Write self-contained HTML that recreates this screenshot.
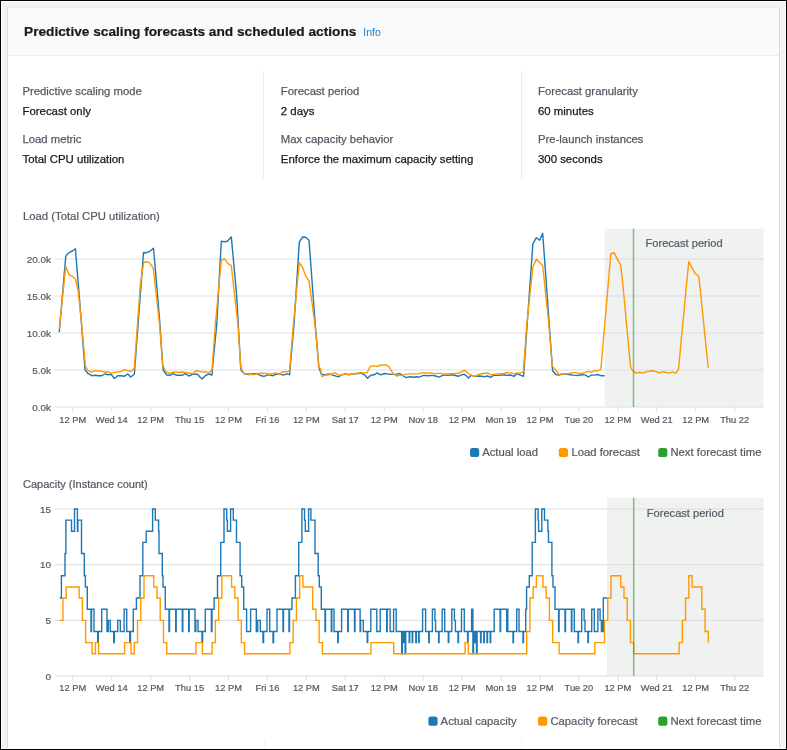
<!DOCTYPE html>
<html><head><meta charset="utf-8">
<style>
*{margin:0;padding:0;box-sizing:border-box}
html,body{width:787px;height:750px;overflow:hidden;background:#000}
body{position:relative;font-family:"Liberation Sans",Arial,sans-serif;color:#16191f}
#frame{position:absolute;left:1px;top:1px;width:785px;height:748px;background:#fff}
#bg{position:absolute;left:2px;top:2px;width:783px;height:746px;background:#f2f3f3}
#card{position:absolute;left:8px;top:7px;width:771px;height:741px;background:#fff;border-top:1px solid #eaeded;
 box-shadow:1px 0 0 0 #dadddf,-1px 0 0 0 #dadddf}
#hdr{position:absolute;left:0;top:0;width:771px;height:48px;background:#fafafa;border-bottom:1px solid #eaeded}
#title{position:absolute;left:16px;top:15.5px;font-size:13.7px;font-weight:bold;white-space:nowrap;color:#16191f;line-height:16px;-webkit-text-stroke:0.2px #16191f}
#info{position:absolute;left:355.3px;top:18.4px;font-size:10.5px;line-height:12px;color:#1b7fc4;font-weight:normal;white-space:nowrap}
.t{position:absolute;white-space:nowrap;font-size:11.3px;line-height:13px;-webkit-text-stroke:0.25px currentColor}
.lab{color:#545b64}
.val{color:#16191f;font-size:11.4px}
.div{position:absolute;width:1px;background:#eaeded}
svg{position:absolute;left:0;top:0}
</style></head><body>
<div id="frame"></div>
<div id="bg"></div>
<div id="card">
 <div id="hdr"><div id="title">Predictive scaling forecasts and scheduled actions</div><div id="info">Info</div></div>
</div>
<div class="t lab" style="left:22.5px;top:85px">Predictive scaling mode</div>
<div class="t val" style="left:22.5px;top:105px">Forecast only</div>
<div class="t lab" style="left:22.5px;top:133px">Load metric</div>
<div class="t val" style="left:22.5px;top:153px">Total CPU utilization</div>
<div class="div" style="left:263px;top:71px;height:108px"></div>
<div class="t lab" style="left:280.8px;top:85px">Forecast period</div>
<div class="t val" style="left:280.8px;top:105px">2 days</div>
<div class="t lab" style="left:280.8px;top:133px">Max capacity behavior</div>
<div class="t val" style="left:280.8px;top:153px">Enforce the maximum capacity setting</div>
<div class="div" style="left:521px;top:71px;height:108px"></div>
<div class="t lab" style="left:538px;top:85px">Forecast granularity</div>
<div class="t val" style="left:538px;top:105px">60 minutes</div>
<div class="t lab" style="left:538px;top:133px">Pre-launch instances</div>
<div class="t val" style="left:538px;top:153px">300 seconds</div>
<div class="div" style="left:264px;top:740px;height:8px;background:#f2f3f3"></div>
<div class="div" style="left:521px;top:740px;height:8px;background:#f2f3f3"></div>
<svg width="787" height="750" viewBox="0 0 787 750" font-family="Liberation Sans, Arial, sans-serif">
<text x="23" y="219.7" font-size="11.3" fill="#545b64" stroke="#545b64" stroke-width="0.22">Load (Total CPU utilization)</text>
<rect x="604.7" y="228.7" width="158.8" height="178.4" fill="#f0f1f1"/>
<line x1="54.5" x2="763.5" y1="259" y2="259" stroke="#dcdddf" stroke-width="1"/>
<line x1="54.5" x2="763.5" y1="296" y2="296" stroke="#dcdddf" stroke-width="1"/>
<line x1="54.5" x2="763.5" y1="333" y2="333" stroke="#dcdddf" stroke-width="1"/>
<line x1="54.5" x2="763.5" y1="370" y2="370" stroke="#dcdddf" stroke-width="1"/>
<line x1="54.5" x2="763.5" y1="407" y2="407" stroke="#dcdddf" stroke-width="1"/>
<text x="51" y="262.5" font-size="9.9" fill="#545b64" stroke="#545b64" stroke-width="0.22" text-anchor="end">20.0k</text>
<text x="51" y="299.5" font-size="9.9" fill="#545b64" stroke="#545b64" stroke-width="0.22" text-anchor="end">15.0k</text>
<text x="51" y="336.5" font-size="9.9" fill="#545b64" stroke="#545b64" stroke-width="0.22" text-anchor="end">10.0k</text>
<text x="51" y="373.5" font-size="9.9" fill="#545b64" stroke="#545b64" stroke-width="0.22" text-anchor="end">5.0k</text>
<text x="51" y="410.5" font-size="9.9" fill="#545b64" stroke="#545b64" stroke-width="0.22" text-anchor="end">0.0k</text>
<line x1="72.8" x2="72.8" y1="407.1" y2="411.6" stroke="#dcdddf" stroke-width="1"/>
<text x="72.8" y="422.5" font-size="9.3" fill="#545b64" stroke="#545b64" stroke-width="0.22" text-anchor="middle">12 PM</text>
<line x1="111.73" x2="111.73" y1="407.1" y2="411.6" stroke="#dcdddf" stroke-width="1"/>
<text x="111.73" y="422.5" font-size="9.3" fill="#545b64" stroke="#545b64" stroke-width="0.22" text-anchor="middle">Wed 14</text>
<line x1="150.66" x2="150.66" y1="407.1" y2="411.6" stroke="#dcdddf" stroke-width="1"/>
<text x="150.66" y="422.5" font-size="9.3" fill="#545b64" stroke="#545b64" stroke-width="0.22" text-anchor="middle">12 PM</text>
<line x1="189.59" x2="189.59" y1="407.1" y2="411.6" stroke="#dcdddf" stroke-width="1"/>
<text x="189.59" y="422.5" font-size="9.3" fill="#545b64" stroke="#545b64" stroke-width="0.22" text-anchor="middle">Thu 15</text>
<line x1="228.52" x2="228.52" y1="407.1" y2="411.6" stroke="#dcdddf" stroke-width="1"/>
<text x="228.52" y="422.5" font-size="9.3" fill="#545b64" stroke="#545b64" stroke-width="0.22" text-anchor="middle">12 PM</text>
<line x1="267.45" x2="267.45" y1="407.1" y2="411.6" stroke="#dcdddf" stroke-width="1"/>
<text x="267.45" y="422.5" font-size="9.3" fill="#545b64" stroke="#545b64" stroke-width="0.22" text-anchor="middle">Fri 16</text>
<line x1="306.38" x2="306.38" y1="407.1" y2="411.6" stroke="#dcdddf" stroke-width="1"/>
<text x="306.38" y="422.5" font-size="9.3" fill="#545b64" stroke="#545b64" stroke-width="0.22" text-anchor="middle">12 PM</text>
<line x1="345.31" x2="345.31" y1="407.1" y2="411.6" stroke="#dcdddf" stroke-width="1"/>
<text x="345.31" y="422.5" font-size="9.3" fill="#545b64" stroke="#545b64" stroke-width="0.22" text-anchor="middle">Sat 17</text>
<line x1="384.24" x2="384.24" y1="407.1" y2="411.6" stroke="#dcdddf" stroke-width="1"/>
<text x="384.24" y="422.5" font-size="9.3" fill="#545b64" stroke="#545b64" stroke-width="0.22" text-anchor="middle">12 PM</text>
<line x1="423.17" x2="423.17" y1="407.1" y2="411.6" stroke="#dcdddf" stroke-width="1"/>
<text x="423.17" y="422.5" font-size="9.3" fill="#545b64" stroke="#545b64" stroke-width="0.22" text-anchor="middle">Nov 18</text>
<line x1="462.1" x2="462.1" y1="407.1" y2="411.6" stroke="#dcdddf" stroke-width="1"/>
<text x="462.1" y="422.5" font-size="9.3" fill="#545b64" stroke="#545b64" stroke-width="0.22" text-anchor="middle">12 PM</text>
<line x1="501.03" x2="501.03" y1="407.1" y2="411.6" stroke="#dcdddf" stroke-width="1"/>
<text x="501.03" y="422.5" font-size="9.3" fill="#545b64" stroke="#545b64" stroke-width="0.22" text-anchor="middle">Mon 19</text>
<line x1="539.96" x2="539.96" y1="407.1" y2="411.6" stroke="#dcdddf" stroke-width="1"/>
<text x="539.96" y="422.5" font-size="9.3" fill="#545b64" stroke="#545b64" stroke-width="0.22" text-anchor="middle">12 PM</text>
<line x1="578.89" x2="578.89" y1="407.1" y2="411.6" stroke="#dcdddf" stroke-width="1"/>
<text x="578.89" y="422.5" font-size="9.3" fill="#545b64" stroke="#545b64" stroke-width="0.22" text-anchor="middle">Tue 20</text>
<line x1="617.82" x2="617.82" y1="407.1" y2="411.6" stroke="#dcdddf" stroke-width="1"/>
<text x="617.82" y="422.5" font-size="9.3" fill="#545b64" stroke="#545b64" stroke-width="0.22" text-anchor="middle">12 PM</text>
<line x1="656.75" x2="656.75" y1="407.1" y2="411.6" stroke="#dcdddf" stroke-width="1"/>
<text x="656.75" y="422.5" font-size="9.3" fill="#545b64" stroke="#545b64" stroke-width="0.22" text-anchor="middle">Wed 21</text>
<line x1="695.68" x2="695.68" y1="407.1" y2="411.6" stroke="#dcdddf" stroke-width="1"/>
<text x="695.68" y="422.5" font-size="9.3" fill="#545b64" stroke="#545b64" stroke-width="0.22" text-anchor="middle">12 PM</text>
<line x1="734.61" x2="734.61" y1="407.1" y2="411.6" stroke="#dcdddf" stroke-width="1"/>
<text x="734.61" y="422.5" font-size="9.3" fill="#545b64" stroke="#545b64" stroke-width="0.22" text-anchor="middle">Thu 22</text>
<text x="645.5" y="247.3" font-size="11.1" fill="#545b64" stroke="#545b64" stroke-width="0.22">Forecast period</text>
<polyline points="59.3,332.3 65.7,256.7 67.7,253.7 69.7,252.3 72.3,251 75.4,248.7 78.6,288 81.9,329 85,369.7 85.4,370.6 88.3,373.7 91.7,375.7 95,375.3 98.3,375.7 101.7,375.7 105,374 108.3,374.7 111,374.3 114.5,378.5 117.7,375.7 121,375.7 124,376.3 127.7,374 130.7,377 134.3,374.3 134.7,369 143.5,252.5 146.3,252.7 149.3,251.7 153.5,248.2 156.7,285 160,325 162.7,365.7 163.3,370.3 166.7,375 170,375.3 173,373.7 176.7,375.3 182,375.3 185.3,373.7 188.7,376 192.7,374.3 197.3,374.3 202,379 205.3,375.7 208.7,374 212,375 212.3,370.3 216.7,325 221.3,241.3 224.7,241.7 227.3,241.3 231.3,237 236.7,295.7 238.3,325 240.7,367.5 241.4,370.7 244.5,373.8 249,374.5 253.4,373.8 257.2,373.8 260.4,375.5 264,376.4 268.7,374.7 273.1,375.7 276.9,374.2 280.1,373.8 283.3,375.1 287.1,373.8 289.6,374.7 289.9,370 294,325 299.3,242 302.7,237 305.6,237.3 309,240.3 315.3,325 318.9,367.5 321.3,374.1 325.1,374.8 328.9,373.9 332.7,375.2 338.4,376.9 341.6,374.8 344.8,373.9 348.6,374.8 352.4,373.9 356.8,373.9 361.3,373.1 364.5,374.8 367.6,378.2 370.8,375.2 374,374.8 377.2,372.9 380.7,374.8 384.2,373.5 387.3,373.9 390.5,374.4 396.2,374.1 400,373.5 403.2,376 406.4,377.7 409.6,376.7 413.4,377.3 416.6,376.7 419.4,377.1 423.3,375.4 427.7,375.7 432.8,375.4 435.3,376 439.1,377.1 443.6,374.8 447.4,375.4 452.5,374.8 458.2,376.3 462.6,374.4 465.2,374.8 468.4,378 470.9,375.4 474.7,376.4 479.2,376 484.9,376.7 487.4,376 490.6,377.3 493.8,375.2 498.9,375.4 503.9,374.8 506.5,375.4 510.5,375 513.9,376.4 517.1,373.8 520.2,375.1 523.4,376.4 523.8,372.6 527.1,325 532.9,243.7 536.4,237.7 539.6,240.3 542.7,233.3 549.3,325 552.3,367.1 552.6,370.7 555.8,374.5 559,375.1 563.5,373.8 568.5,374.5 573.6,375.1 578.7,375.5 582.5,374.5 585.7,375.1 588.2,377 591.4,375.1 595.2,375.1 597.8,374.5 600.9,375.7 604.7,375.7" fill="none" stroke="#1f77b4" stroke-width="1.4" stroke-linejoin="round"/>
<polyline points="59.3,329 65.7,266.3 69,274.6 72.3,276.3 75.4,279 78.3,291.7 81.7,325 85.4,366 87.7,370.3 91.3,372 95,370.7 98.3,371 101.7,371.4 105,372.3 107.7,371.7 111,373.3 114.3,372.3 117.7,372 121,371.4 124.3,369.7 127.7,370.7 131,371.3 134.3,368.3 140.3,285 143.7,262.3 146.7,261.7 149.7,262.9 153.3,268.3 159.6,325 162.7,365.4 166,371.7 169.3,373.4 172.7,372.3 178,372.3 182.7,372 186.7,372.7 192.7,373.7 196,370.7 200,371.4 202.7,372 205.3,371.7 208.7,373 212,369.7 215.3,325 221.3,260 224.7,259 228,263.7 231.3,265.7 238,325 240.7,366.8 243.9,373.8 247.7,373.8 253.4,374.7 259.8,373.2 266.1,373.5 270,374.2 275.7,373 279.5,374.5 282.6,371.7 287.1,371.7 289.6,370.4 293.3,325 299.3,262.6 302.7,267.7 305.6,275.7 309,281 315,325 318.9,367 320.6,369 321.9,376.7 325.1,375.2 328.9,374.8 332.7,373.3 335.2,372.9 339.1,375.4 342.2,374.8 346.7,374.1 350.5,374.4 355.6,373.5 360.7,372.6 367,372.9 370.2,366.5 373.4,365.9 377.2,366.5 380.4,365 386.7,365 389.2,367.2 393.1,373.5 396.2,376 399.4,375.2 402.6,375.2 406.4,374.1 411.5,373.9 415.3,373.9 418.8,373.9 422.6,372.6 426.4,373.3 430.2,372.9 435.3,373.8 439.8,373.1 444.2,374.1 448.7,373.8 453.1,373.8 458.2,373.3 464.6,370.1 468.4,373.5 474.1,376.7 478.5,374.5 483,373.5 487.4,372.9 491.2,374.8 494.4,374.4 498.9,373.8 503.3,373.8 507.1,372.5 510.9,372.9 513.9,373.8 517.1,372.9 520.2,373.2 523.4,371.9 526.7,325 532.9,267 536.4,259 542.7,265.7 548.9,325 552.3,366.2 555.2,369.4 559,374.5 562.8,373.8 567.9,373.8 571.7,372.6 575.5,372.6 580,373.8 584.4,372.6 588.2,371.3 591.4,372.2 594.6,370.7 597.8,370.9 600.9,369.4 610.8,254 614,252.7 620.7,265.3 623.4,290 630.5,367 632.8,370.8 635.8,373.1 639.6,372.3 642.7,373.1 646.5,371.6 652.6,370.8 656.4,371.6 659.5,373.1 662.5,371.6 665.5,372.3 669.4,373.1 672.4,371.9 675.8,373.1 678.5,369.3 686,290 688.8,261.7 695,273.3 698.7,276.3 700.3,290 708.2,367.7" fill="none" stroke="#ff9900" stroke-width="1.4" stroke-linejoin="round"/>
<line x1="633.5" x2="633.5" y1="228.7" y2="407.1" stroke="#2ca02c" stroke-opacity="0.6" stroke-width="1.5"/>
<rect x="470" y="447.9" width="9.2" height="9.2" rx="2.6" fill="#1f77b4"/>
<text x="482.2" y="455.9" font-size="11.3" fill="#545b64" stroke="#545b64" stroke-width="0.22">Actual load</text>
<rect x="558.8" y="447.9" width="9.2" height="9.2" rx="2.6" fill="#ff9900"/>
<text x="571.4" y="455.9" font-size="11.3" fill="#545b64" stroke="#545b64" stroke-width="0.22">Load forecast</text>
<rect x="658.2" y="447.9" width="9.2" height="9.2" rx="2.6" fill="#2ca02c"/>
<text x="670.4" y="455.9" font-size="11.3" fill="#545b64" stroke="#545b64" stroke-width="0.22">Next forecast time</text>
<text x="23" y="487.9" font-size="11.0" fill="#545b64" stroke="#545b64" stroke-width="0.22">Capacity (Instance count)</text>
<rect x="607" y="497.7" width="156.5" height="178.2" fill="#f0f1f1"/>
<line x1="54.5" x2="763.5" y1="509" y2="509" stroke="#dcdddf" stroke-width="1"/>
<line x1="54.5" x2="763.5" y1="564.67" y2="564.67" stroke="#dcdddf" stroke-width="1"/>
<line x1="54.5" x2="763.5" y1="620.34" y2="620.34" stroke="#dcdddf" stroke-width="1"/>
<line x1="54.5" x2="763.5" y1="676" y2="676" stroke="#dcdddf" stroke-width="1"/>
<text x="51" y="512.5" font-size="9.9" fill="#545b64" stroke="#545b64" stroke-width="0.22" text-anchor="end">15</text>
<text x="51" y="568.17" font-size="9.9" fill="#545b64" stroke="#545b64" stroke-width="0.22" text-anchor="end">10</text>
<text x="51" y="623.84" font-size="9.9" fill="#545b64" stroke="#545b64" stroke-width="0.22" text-anchor="end">5</text>
<text x="51" y="679.5" font-size="9.9" fill="#545b64" stroke="#545b64" stroke-width="0.22" text-anchor="end">0</text>
<line x1="72.8" x2="72.8" y1="675.9" y2="680.4" stroke="#dcdddf" stroke-width="1"/>
<text x="72.8" y="691.3" font-size="9.3" fill="#545b64" stroke="#545b64" stroke-width="0.22" text-anchor="middle">12 PM</text>
<line x1="111.73" x2="111.73" y1="675.9" y2="680.4" stroke="#dcdddf" stroke-width="1"/>
<text x="111.73" y="691.3" font-size="9.3" fill="#545b64" stroke="#545b64" stroke-width="0.22" text-anchor="middle">Wed 14</text>
<line x1="150.66" x2="150.66" y1="675.9" y2="680.4" stroke="#dcdddf" stroke-width="1"/>
<text x="150.66" y="691.3" font-size="9.3" fill="#545b64" stroke="#545b64" stroke-width="0.22" text-anchor="middle">12 PM</text>
<line x1="189.59" x2="189.59" y1="675.9" y2="680.4" stroke="#dcdddf" stroke-width="1"/>
<text x="189.59" y="691.3" font-size="9.3" fill="#545b64" stroke="#545b64" stroke-width="0.22" text-anchor="middle">Thu 15</text>
<line x1="228.52" x2="228.52" y1="675.9" y2="680.4" stroke="#dcdddf" stroke-width="1"/>
<text x="228.52" y="691.3" font-size="9.3" fill="#545b64" stroke="#545b64" stroke-width="0.22" text-anchor="middle">12 PM</text>
<line x1="267.45" x2="267.45" y1="675.9" y2="680.4" stroke="#dcdddf" stroke-width="1"/>
<text x="267.45" y="691.3" font-size="9.3" fill="#545b64" stroke="#545b64" stroke-width="0.22" text-anchor="middle">Fri 16</text>
<line x1="306.38" x2="306.38" y1="675.9" y2="680.4" stroke="#dcdddf" stroke-width="1"/>
<text x="306.38" y="691.3" font-size="9.3" fill="#545b64" stroke="#545b64" stroke-width="0.22" text-anchor="middle">12 PM</text>
<line x1="345.31" x2="345.31" y1="675.9" y2="680.4" stroke="#dcdddf" stroke-width="1"/>
<text x="345.31" y="691.3" font-size="9.3" fill="#545b64" stroke="#545b64" stroke-width="0.22" text-anchor="middle">Sat 17</text>
<line x1="384.24" x2="384.24" y1="675.9" y2="680.4" stroke="#dcdddf" stroke-width="1"/>
<text x="384.24" y="691.3" font-size="9.3" fill="#545b64" stroke="#545b64" stroke-width="0.22" text-anchor="middle">12 PM</text>
<line x1="423.17" x2="423.17" y1="675.9" y2="680.4" stroke="#dcdddf" stroke-width="1"/>
<text x="423.17" y="691.3" font-size="9.3" fill="#545b64" stroke="#545b64" stroke-width="0.22" text-anchor="middle">Nov 18</text>
<line x1="462.1" x2="462.1" y1="675.9" y2="680.4" stroke="#dcdddf" stroke-width="1"/>
<text x="462.1" y="691.3" font-size="9.3" fill="#545b64" stroke="#545b64" stroke-width="0.22" text-anchor="middle">12 PM</text>
<line x1="501.03" x2="501.03" y1="675.9" y2="680.4" stroke="#dcdddf" stroke-width="1"/>
<text x="501.03" y="691.3" font-size="9.3" fill="#545b64" stroke="#545b64" stroke-width="0.22" text-anchor="middle">Mon 19</text>
<line x1="539.96" x2="539.96" y1="675.9" y2="680.4" stroke="#dcdddf" stroke-width="1"/>
<text x="539.96" y="691.3" font-size="9.3" fill="#545b64" stroke="#545b64" stroke-width="0.22" text-anchor="middle">12 PM</text>
<line x1="578.89" x2="578.89" y1="675.9" y2="680.4" stroke="#dcdddf" stroke-width="1"/>
<text x="578.89" y="691.3" font-size="9.3" fill="#545b64" stroke="#545b64" stroke-width="0.22" text-anchor="middle">Tue 20</text>
<line x1="617.82" x2="617.82" y1="675.9" y2="680.4" stroke="#dcdddf" stroke-width="1"/>
<text x="617.82" y="691.3" font-size="9.3" fill="#545b64" stroke="#545b64" stroke-width="0.22" text-anchor="middle">12 PM</text>
<line x1="656.75" x2="656.75" y1="675.9" y2="680.4" stroke="#dcdddf" stroke-width="1"/>
<text x="656.75" y="691.3" font-size="9.3" fill="#545b64" stroke="#545b64" stroke-width="0.22" text-anchor="middle">Wed 21</text>
<line x1="695.68" x2="695.68" y1="675.9" y2="680.4" stroke="#dcdddf" stroke-width="1"/>
<text x="695.68" y="691.3" font-size="9.3" fill="#545b64" stroke="#545b64" stroke-width="0.22" text-anchor="middle">12 PM</text>
<line x1="734.61" x2="734.61" y1="675.9" y2="680.4" stroke="#dcdddf" stroke-width="1"/>
<text x="734.61" y="691.3" font-size="9.3" fill="#545b64" stroke="#545b64" stroke-width="0.22" text-anchor="middle">Thu 22</text>
<text x="646.8" y="516.6" font-size="11.1" fill="#545b64" stroke="#545b64" stroke-width="0.22">Forecast period</text>
<path d="M59.7,598.07H61.4V575.8H65V553.54H65.9V520.14H71.5V531.27H74.5V509H77.4V531.27H77.9V520.14H81.5V553.54H84.3V575.8H85.4V586.94H87.3V609.2H91V631.47H91.5V609.2H94V631.47H97.7V642.6H98.3V631.47H101.7V609.2H107V631.47H108.3V620.34H110.3V631.47H113.7V642.6H114.3V631.47H117.7V620.34H120.3V631.47H124.1V609.2H126.7V631.47H129.7V642.6H130.5V631.47H133.3V609.2H136.4V598.07H140V575.8H142.8V542.4H146.2V531.27H152.6V509H155.3V520.14H158.6V531.27H159V553.54H162.3V575.8H163V586.94H165.3V609.2H169V631.47H169.5V609.2H175.7V631.47H176.2V609.2H182.3V631.47H182.8V609.2H188.7V631.47H189.2V609.2H195V631.47H195.8V620.34H198V631.47H202V642.6H202.6V631.47H205.3V609.2H211.4V631.47H212V609.2H214.1V598.07H217.5V575.8H220.7V542.4H224V509H226.7V520.14H227.4V531.27H230.6V509H233.3V520.14H236.5V542.4H240.1V575.8H241.7V586.94H243.7V609.2H246.6V631.47H250.6V609.2H256.3V631.47H257.7V620.34H260.3V631.47H263V642.6H263.6V631.47H267V609.2H269.7V631.47H273V642.6H273.6V631.47H277V609.2H283V631.47H283.5V609.2H289V631.47H289.5V609.2H292V598.07H295.4V575.8H298.7V542.4H301.9V509H304.5V520.14H305.3V531.27H308.6V509H310.9V520.14H315V553.54H318.2V575.8H319.3V586.94H321.3V609.2H325V631.47H325.5V609.2H331.3V631.47H331.8V609.2H334V631.47H337.7V642.6H338.2V631.47H341.6V609.2H347.7V631.47H348.2V609.2H354.5V631.47H355V609.2H360.1V631.47H360.6V620.34H363.3V631.47H367.2V642.6H367.7V631.47H370.8V609.2H376.8V631.47H380.2V609.2H386.7V631.47H387.2V609.2H390.1V631.47H393.6V609.2H396.2V631.47H401.7V653.73H402.3V631.47H402.9V642.6H403.4V631.47H403.9V642.6H404.4V631.47H405.1V653.73H405.7V631.47H409.2V642.6H409.7V631.47H412.2V642.6H412.7V631.47H415.8V642.6H416.3V631.47H418.6V642.6H419.1V631.47H422.6V609.2H425.6V631.47H428.7V642.6H429.2V631.47H432.4V609.2H434.9V620.34H435.6V631.47H438.6V642.6H439.1V631.47H442.2V609.2H444.7V631.47H448.3V642.6H448.8V631.47H451.8V609.2H454.4V620.34H455.4V631.47H458V642.6H458.5V631.47H461.5V609.2H464.3V631.47H467.6V642.6H468.1V631.47H471.6V609.2H472.9V653.73H473.5V642.6H474.2V631.47H474.8V642.6H475.4V631.47H476.5V653.73H477.1V631.47H480.6V642.6H481.1V631.47H483.8V642.6H484.3V631.47H487V642.6H487.5V631.47H490.2V642.6H490.7V631.47H494.2V609.2H500.1V631.47H500.6V609.2H506.7V631.47H507.2V609.2H507.8V631.47H513V642.6H513.5V631.47H516.7V609.2H519V631.47H523V642.6H523.5V631.47H525.7V609.2H526.6V586.94H529.3V575.8H532.2V542.4H535.4V509H538.1V520.14H538.6V531.27H541.8V509H544.5V520.14H547.9V531.27H548.5V542.4H551.9V575.8H553V586.94H555V609.2H558.6V631.47H559.1V609.2H565V631.47H565.5V609.2H571.4V631.47H571.9V609.2H574.3V631.47H578V642.6H578.5V631.47H581.7V609.2H584.1V620.34H585V631.47H587.9V642.6H588.4V631.47H591.7V609.2H594.3V631.47H597.9V609.2H600.1V620.34H601.4V631.47H602V620.34H602.5V631.47H603.3V598.07H607V598.07" fill="none" stroke="#1f77b4" stroke-width="1.4" stroke-linejoin="miter"/>
<path d="M59.7,620.34H62.94V598.07H66.19V586.94H69.43V586.94H72.67V586.94H75.92V586.94H79.16V598.07H82.4V620.34H85.64V642.6H88.89V642.6H92.13V653.73H95.37V642.6H98.62V653.73H101.86V653.73H105.1V653.73H108.34V653.73H111.59V653.73H114.83V653.73H118.07V653.73H121.32V653.73H124.56V642.6H127.8V642.6H131.05V653.73H134.29V642.6H137.53V620.34H140.78V598.07H144.02V575.8H147.26V575.8H150.5V575.8H153.75V586.94H156.99V598.07H160.23V620.34H163.48V642.6H166.72V653.73H169.96V653.73H173.2V653.73H176.45V653.73H179.69V653.73H182.93V653.73H186.18V653.73H189.42V653.73H192.66V653.73H195.91V642.6H199.15V642.6H202.39V653.73H205.63V653.73H208.88V653.73H212.12V642.6H215.36V620.34H218.61V598.07H221.85V575.8H225.09V575.8H228.34V575.8H231.58V586.94H234.82V598.07H238.06V620.34H241.31V642.6H244.55V653.73H247.79V653.73H251.04V653.73H254.28V653.73H257.52V653.73H260.77V653.73H264.01V653.73H267.25V653.73H270.5V653.73H273.74V653.73H276.98V653.73H280.22V653.73H283.47V653.73H286.71V653.73H289.95V642.6H293.2V620.34H296.44V598.07H299.68V575.8H302.93V586.94H306.17V586.94H309.41V586.94H312.65V609.2H315.9V620.34H319.14V642.6H322.38V653.73H325.63V653.73H328.87V653.73H332.11V653.73H335.35V653.73H338.6V653.73H341.84V653.73H345.08V653.73H348.33V653.73H351.57V653.73H354.81V653.73H358.06V653.73H361.3V653.73H364.54V653.73H367.78V653.73H371.03V642.6H374.27V642.6H377.51V642.6H380.76V642.6H384V642.6H387.24V642.6H390.49V642.6H393.73V653.73H396.97V653.73H400.21V653.73H403.46V653.73H406.7V653.73H409.94V653.73H413.19V653.73H416.43V653.73H419.67V653.73H422.92V653.73H426.16V653.73H429.4V653.73H432.64V653.73H435.89V653.73H439.13V653.73H442.37V653.73H445.62V653.73H448.86V653.73H452.1V653.73H455.35V653.73H458.59V653.73H461.83V653.73H465.07V642.6H468.32V653.73H471.56V653.73H474.8V653.73H478.05V653.73H481.29V653.73H484.53V653.73H487.78V653.73H491.02V653.73H494.26V653.73H497.5V653.73H500.75V653.73H503.99V653.73H507.23V653.73H510.48V653.73H513.72V653.73H516.96V653.73H520.21V653.73H523.45V653.73H526.69V631.47H529.93V598.07H533.18V586.94H536.42V575.8H539.66V575.8H542.91V586.94H546.15V598.07H549.39V620.34H552.64V642.6H555.88V642.6H559.12V653.73H562.37V653.73H565.61V653.73H568.85V653.73H572.09V653.73H575.34V653.73H578.58V653.73H581.82V653.73H585.07V653.73H588.31V653.73H591.55V653.73H594.8V642.6H598.04V642.6H601.28V642.6H604.52V620.34H607.77V598.07H611.01V575.8H614.25V575.8H617.5V575.8H620.74V586.94H623.98V598.07H627.23V620.34H630.47V642.6H633.71V653.73H636.95V653.73H640.2V653.73H643.44V653.73H646.68V653.73H649.93V653.73H653.17V653.73H656.41V653.73H659.65V653.73H662.9V653.73H666.14V653.73H669.38V653.73H672.63V653.73H675.87V653.73H679.11V642.6H682.36V620.34H685.6V598.07H688.84V575.8H692.09V586.94H695.33V586.94H698.57V586.94H701.81V609.2H705.06V631.47H708.3V642.6" fill="none" stroke="#ff9900" stroke-width="1.4" stroke-linejoin="miter"/>
<line x1="633.7" x2="633.7" y1="497.7" y2="675.9" stroke="#2ca02c" stroke-opacity="0.6" stroke-width="1.5"/>
<rect x="428.4" y="716.6" width="9.2" height="9.2" rx="2.6" fill="#1f77b4"/>
<text x="440.6" y="724.6" font-size="11.3" fill="#545b64" stroke="#545b64" stroke-width="0.22">Actual capacity</text>
<rect x="538" y="716.6" width="9.2" height="9.2" rx="2.6" fill="#ff9900"/>
<text x="550.4" y="724.6" font-size="11.3" fill="#545b64" stroke="#545b64" stroke-width="0.22">Capacity forecast</text>
<rect x="658.2" y="716.6" width="9.2" height="9.2" rx="2.6" fill="#2ca02c"/>
<text x="670.4" y="724.6" font-size="11.3" fill="#545b64" stroke="#545b64" stroke-width="0.22">Next forecast time</text>
</svg>
</body></html>
